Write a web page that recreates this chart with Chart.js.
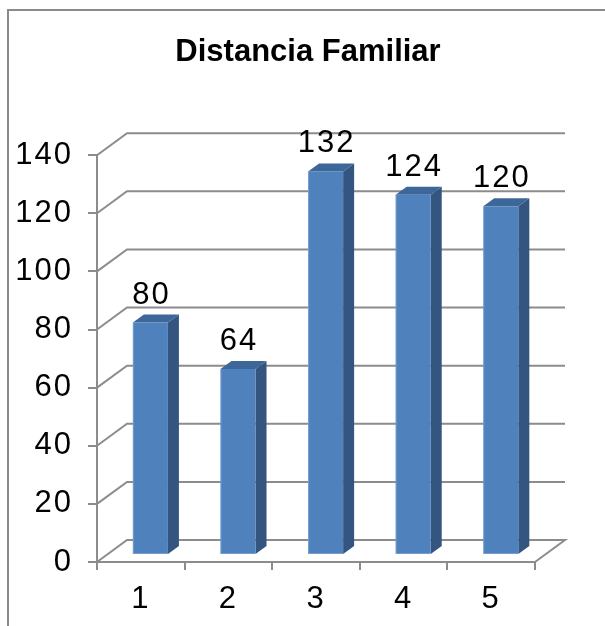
<!DOCTYPE html>
<html>
<head>
<meta charset="utf-8">
<script src="https://cdn.jsdelivr.net/npm/chart.js@4/dist/chart.umd.min.js"></script>
<style>
  html, body { margin: 0; padding: 0; background: #fff; }
  canvas { display: block; }
</style>
</head>
<body>
<canvas id="chart" width="605" height="626"></canvas>
<script>
// Data
const categories = ['1', '2', '3', '4', '5'];
const distances = [80, 64, 132, 124, 120];
const yTicks = [0, 20, 40, 60, 80, 100, 120, 140];
const chartTitle = 'Distancia Familiar';

// Style
const FONT = "'Liberation Sans', Arial, Helvetica, sans-serif";
const NUM_SIZE = 31;
const NUM_SPACING = 2;
const GRID = '#8c8c8c';
const WALL = { dx: 30, dy: -22 };       // depth of floor / back wall
const BAR_FRONT = 0.32;                   // bar front plane, as a share of the depth
const BAR_DEPTH = { dx: 11, dy: -8 };     // visible depth of each bar
const BAR_FRONT_COLOR = '#4f81bd';
const BAR_TOP_COLOR = '#3d6699';
const BAR_SIDE_COLOR = '#33557f';

function poly(ctx, pts, fill) {
  ctx.beginPath();
  ctx.moveTo(pts[0][0], pts[0][1]);
  for (let i = 1; i < pts.length; i++) ctx.lineTo(pts[i][0], pts[i][1]);
  ctx.closePath();
  ctx.fillStyle = fill;
  ctx.fill();
}

// Draws the 3D walls, the extruded bars and their value labels.
const perspective = {
  id: 'perspective',
  beforeDraw(chart) {
    const ctx = chart.ctx;
    ctx.save();
    ctx.fillStyle = '#fff';
    ctx.fillRect(0, 0, chart.width, chart.height);
    ctx.strokeStyle = '#8a8a8a';
    ctx.lineWidth = 2;
    ctx.beginPath();
    ctx.moveTo(8, chart.height);
    ctx.lineTo(8, 10);
    ctx.lineTo(chart.width, 10);
    ctx.stroke();
    ctx.restore();
    ctx.letterSpacing = '0px';
  },
  beforeDatasetsDraw(chart) {
    const { ctx, scales: { x, y } } = chart;
    const left = x.left, right = x.right;
    ctx.save();
    ctx.strokeStyle = GRID;
    ctx.lineWidth = 2;
    y.ticks.forEach(t => {
      const py = y.getPixelForValue(t.value);
      ctx.beginPath();
      ctx.moveTo(left, py);
      ctx.lineTo(left + WALL.dx, py + WALL.dy);
      ctx.lineTo(right + WALL.dx, py + WALL.dy);
      if (t.value === y.min) ctx.lineTo(right, py);
      ctx.stroke();
    });
    ctx.restore();
  },
  afterDatasetsDraw(chart) {
    const ctx = chart.ctx;
    const meta = chart.getDatasetMeta(0);
    const values = chart.data.datasets[0].data;
    const sx = WALL.dx * BAR_FRONT, sy = WALL.dy * BAR_FRONT;
    ctx.save();
    meta.data.forEach((bar, i) => {
      const p = bar.getProps(['x', 'y', 'base', 'width'], true);
      const xl = p.x - p.width / 2 + sx, xr = p.x + p.width / 2 + sx;
      const yt = p.y + sy, yb = p.base + sy;
      poly(ctx, [[xr, yt], [xr + BAR_DEPTH.dx, yt + BAR_DEPTH.dy],
                 [xr + BAR_DEPTH.dx, yb + BAR_DEPTH.dy], [xr, yb]], BAR_SIDE_COLOR);
      poly(ctx, [[xl, yt], [xl + BAR_DEPTH.dx, yt + BAR_DEPTH.dy],
                 [xr + BAR_DEPTH.dx, yt + BAR_DEPTH.dy], [xr, yt]], BAR_TOP_COLOR);
      ctx.fillStyle = BAR_FRONT_COLOR;
      ctx.fillRect(xl, yt, xr - xl, yb - yt);
      // soft highlight on the front edges
      ctx.strokeStyle = 'rgba(140,180,230,0.55)';
      ctx.lineWidth = 1;
      ctx.beginPath();
      ctx.moveTo(xl + 0.5, yt);
      ctx.lineTo(xl + 0.5, yb - 0.5);
      ctx.lineTo(xr, yb - 0.5);
      ctx.stroke();

      ctx.letterSpacing = NUM_SPACING + 'px';
      ctx.font = `${NUM_SIZE}px ${FONT}`;
      ctx.fillStyle = '#000';
      ctx.textAlign = 'center';
      ctx.textBaseline = 'alphabetic';
      ctx.fillText(String(values[i]), (xl + xr) / 2 + NUM_SPACING / 2, yt - 19);
    });
    ctx.restore();
    // axis numbers are drawn after the datasets (ticks.z = 1)
    ctx.letterSpacing = NUM_SPACING + 'px';
  },
  afterDraw(chart) {
    chart.ctx.letterSpacing = '0px';
  }
};

new Chart(document.getElementById('chart'), {
  type: 'bar',
  data: {
    labels: categories,
    datasets: [{
      data: distances,
      backgroundColor: 'rgba(0,0,0,0)',
      borderWidth: 0,
      categoryPercentage: 0.8,
      barPercentage: 0.5
    }]
  },
  options: {
    responsive: false,
    animation: false,
    devicePixelRatio: 1,
    layout: { padding: { left: 11, right: 0, top: 0, bottom: 0 } },
    plugins: {
      legend: { display: false },
      tooltip: { enabled: false },
      title: {
        display: true,
        text: chartTitle,
        color: '#000',
        font: { family: FONT, size: 31, weight: 'bold' },
        padding: { top: 34, bottom: 84 }
      }
    },
    scales: {
      x: {
        grid: { display: true, drawOnChartArea: false, offset: true, color: GRID, lineWidth: 2, tickLength: 8 },
        border: { display: true, color: GRID, width: 2 },
        ticks: { color: '#000', font: { family: FONT, size: NUM_SIZE }, padding: 11, z: 1, maxRotation: 0 },
        afterFit: s => { s.height = 64; }
      },
      y: {
        min: 0,
        max: 140,
        grid: { display: true, drawOnChartArea: false, color: GRID, lineWidth: 2, tickLength: 9 },
        border: { display: true, color: GRID, width: 2 },
        ticks: { color: '#000', font: { family: FONT, size: NUM_SIZE }, padding: 15, z: 1 },
        afterBuildTicks: s => { s.ticks = yTicks.map(v => ({ value: v })); },
        afterFit: s => { s.width = 86; }
      },
      // empty right-hand gutter that leaves room for the depth of the walls
      gutter: {
        type: 'linear',
        position: 'right',
        display: true,
        grid: { display: false },
        border: { display: false },
        ticks: { display: false },
        afterFit: s => { s.width = 70; }
      }
    }
  },
  plugins: [perspective]
});
</script>
</body>
</html>
